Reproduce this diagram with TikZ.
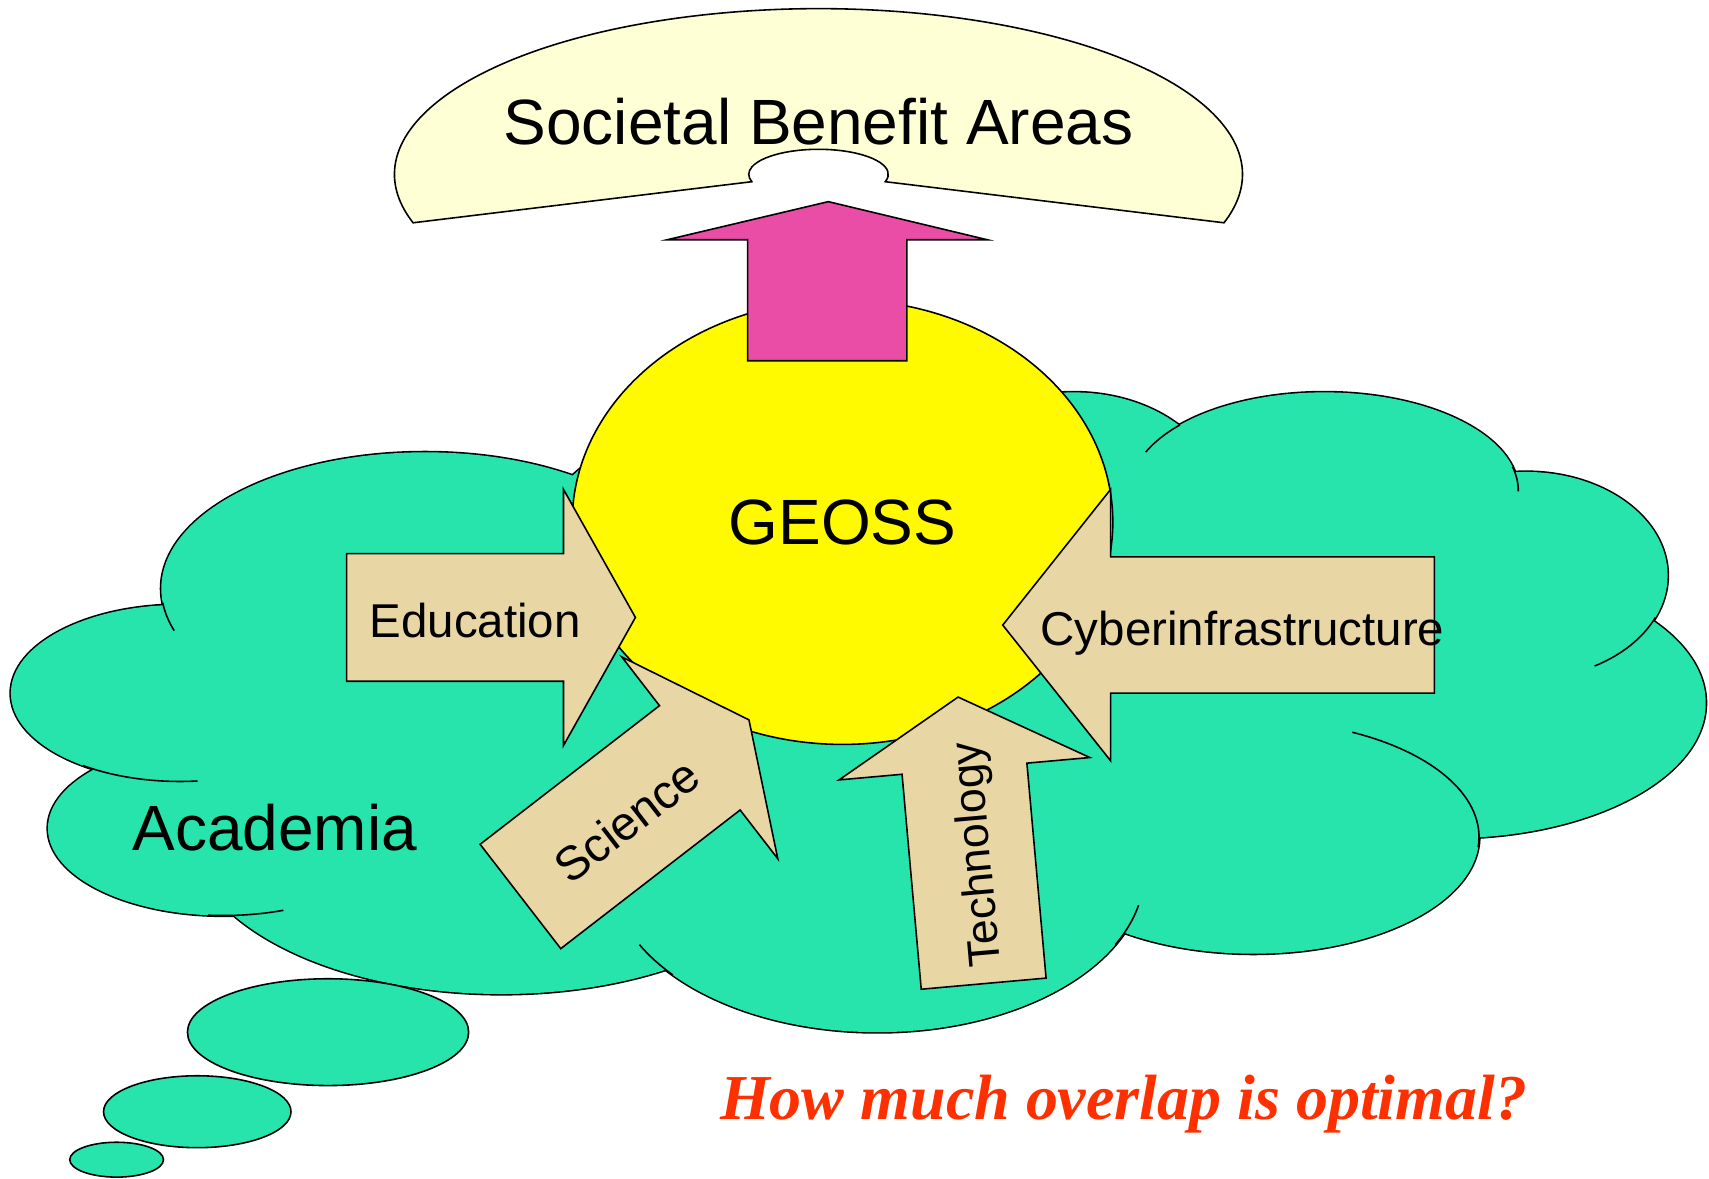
\documentclass[tikz,border=0pt]{standalone}
\usepackage{fontspec}
\setmainfont{Liberation Sans}
\newfontfamily\questionfont{Liberation Serif}
\definecolor{cloudgreen}{RGB}{38,228,172}
\definecolor{sunyellow}{RGB}{255,250,0}
\definecolor{archfill}{RGB}{255,255,213}
\definecolor{tan}{RGB}{232,214,164}
\definecolor{hotpink}{RGB}{234,77,166}
\definecolor{qred}{RGB}{255,48,0}
% centre x/y and radii of the cloud lobes
\newcommand\cloudlobes{390/540/242/125, 165/636/155/81, 205/760/161/80,
  460/762/287/150, 805/800/245/147, 1150/768/207/107, 1330/645/235/124,
  1400/528/130/95, 1215/450/178/90, 985/460/135/100, 640/500/144/105,
  800/600/330/200}

\begin{document}
\begin{tikzpicture}[x=0.010899cm,y=-0.010899cm,line width=0.45pt,
  big/.style={font=\fontsize{18.2}{22}\selectfont},
  lbl/.style={font=\fontsize{13.5}{16}\selectfont},
  bar/.style={draw,fill=tan},
  bubble/.style={draw,fill=cloudgreen},
  pics/blockarrow/.style n args={4}{code={
    \draw[bar] (0,-#2/2) -- (#1,-#2/2) -- (#1,-#4/2) -- (#1+#3,0)
      -- (#1,#4/2) -- (#1,#2/2) -- (0,#2/2) -- cycle;}}]
\useasboundingbox (0,0) rectangle (1568,1081);

% cloud: thick outline first, the fill then hides the inner strokes
\foreach \cx/\cy/\rx/\ry in \cloudlobes
  \draw[line width=0.9pt] (\cx,\cy) ellipse[x radius=\rx,y radius=\ry];
\foreach \cx/\cy/\rx/\ry in \cloudlobes
  \fill[cloudgreen] (\cx,\cy) ellipse[x radius=\rx,y radius=\ry];
\foreach \cx/\cy/\rx/\ry/\a/\b in {390/540/242/125/174/162, 165/636/155/81/125/84,
    205/760/161/80/95/70, 805/800/245/147/140/153, 805/800/245/147/27/12,
    1150/768/207/107/5/-64, 1400/528/130/95/24/61, 1215/450/178/90/-14/0.5,
    1215/450/178/90/222/203}
  \draw ({\cx+\rx*cos(\a)},{\cy+\ry*sin(\a)})
    arc[start angle=\a,end angle=\b,x radius=\rx,y radius=\ry];
\node[big,anchor=base] (academia) at (252,780) {Academia};

\draw[fill=sunyellow] (773,479) ellipse[x radius=248,y radius=204];
\node[big,anchor=base] (geoss) at (773,500) {GEOSS};

\pic at (318,566.5) {blockarrow={199}{117}{66}{235}};
\pic[rotate=37.7] at (477.5,822.5) {blockarrow={208}{121}{57}{234}};
\pic[rotate=95.1] at (902.5,902.5) {blockarrow={198}{115}{66}{231}};
\pic[rotate=180] at (1316,573.5) {blockarrow={297}{125}{99}{249}};
\node[lbl,anchor=base] (edu) at (436,585) {Education};
\node[lbl,rotate=37.7] (sci) at (575,753) {Science};
\node[lbl,rotate=95.1,font=\fontsize{12.7}{15}\selectfont] (tech) at (898,784) {Technology};
\node[lbl,anchor=base] (cyber) at (1140,592) {Cyberinfrastructure};

\draw[fill=hotpink] (686,331) -- (686,220) -- (612,220) -- (760,185)
  -- (906,220) -- (832,220) -- (832,331) -- cycle;
\draw[fill=archfill] (379,204.4) arc[start angle=163,end angle=377,x radius=389,y radius=152]
  -- (812.2,166.7) arc[start angle=17,end angle=-197,x radius=64,y radius=23] -- cycle;
\node[big,anchor=base] (sba) at (751,133) {Societal Benefit Areas};

\draw[bubble] (301,947) ellipse[x radius=129,y radius=49];
\draw[bubble] (181,1020) ellipse[x radius=86,y radius=33];
\draw[bubble] (107,1064) ellipse[x radius=43,y radius=16];

\node[anchor=base,text=qred,font={\questionfont\bfseries\itshape\fontsize{18.2}{22}\selectfont}]
  (question) at (1031,1027) {How much overlap is optimal?};
\end{tikzpicture}
\end{document}
